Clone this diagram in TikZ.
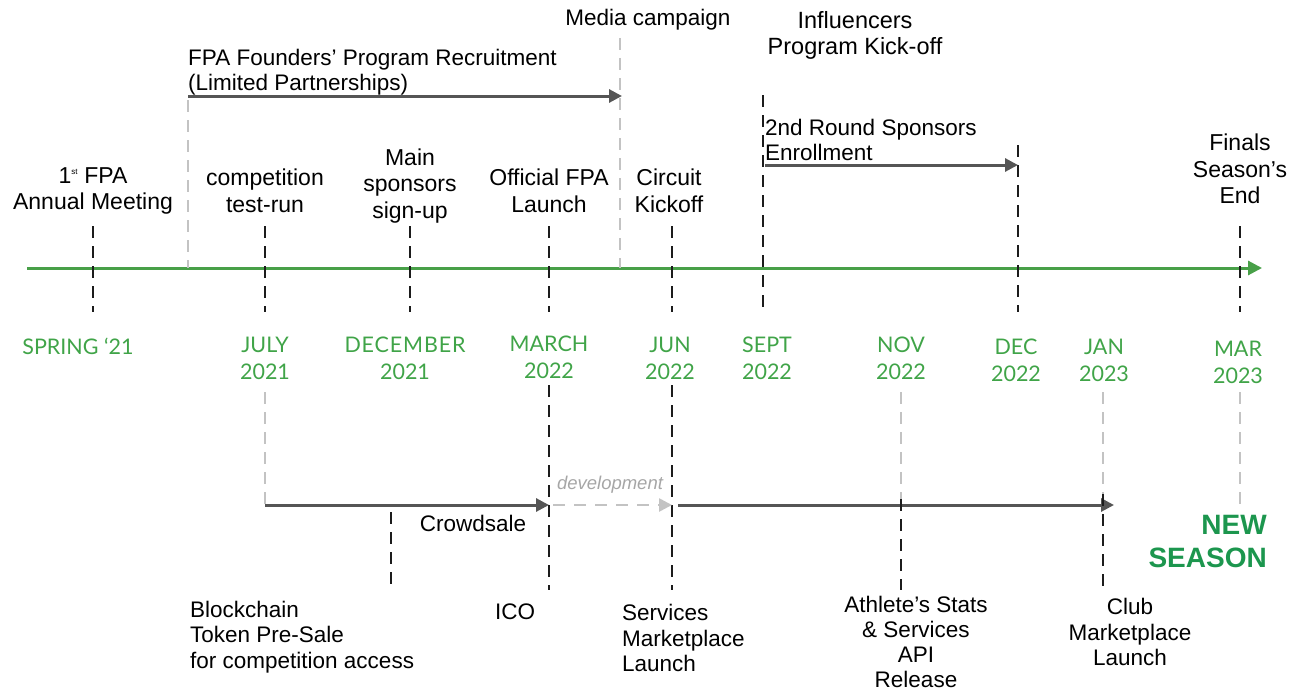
\documentclass[tikz,border=0pt]{standalone}
\usepackage{fontspec}
\setmainfont{Liberation Sans}
\newfontfamily\monthfont{Lato}
\usetikzlibrary{arrows.meta}
\definecolor{axisgreen}{RGB}{72,160,72}
\definecolor{monthgreen}{RGB}{64,164,72}
\definecolor{seasongreen}{RGB}{28,150,78}
\definecolor{darkdash}{RGB}{28,28,28}
\definecolor{spanarrow}{RGB}{85,85,85}
\definecolor{lightdash}{RGB}{195,195,195}
\tikzset{
  ev/.style={font=\fontsize{23}{26.5}\selectfont, align=center, inner sep=0pt},
  note/.style={font=\fontsize{22.5}{25.5}\selectfont, inner sep=0pt},
  month/.style={font=\monthfont\fontsize{21.5}{27}\selectfont, text=monthgreen, align=center, inner sep=0pt},
  axisline/.style={draw=axisgreen, line width=3pt, -{Triangle[length=14pt,width=14pt]}},
  tick/.style={draw=darkdash, line width=2.7pt, dash pattern=on 12pt off 8pt},
  faint/.style={draw=lightdash, line width=2.4pt, dash pattern=on 12pt off 8pt},
  span/.style={draw=spanarrow, line width=3pt, -{Triangle[length=13pt,width=13pt]}},
  faintspan/.style={draw=lightdash, line width=2.6pt, dash pattern=on 12pt off 9pt, -{Triangle[length=13pt,width=13pt]}}
}
\begin{document}
\begin{tikzpicture}[x=1pt,y=-1pt]
\useasboundingbox (0,0) rectangle (1298,693);

% main time axis
\coordinate (axL) at (27,268);
\coordinate (axR) at (1262,268);
\draw[axisline] (axL) -- (axR);

% milestone ticks crossing the axis
\foreach \n/\x in {meet/93, test/265, spons/410, offl/549, circ/672, fin/1240}{
  \coordinate (\n T) at (\x,226);
  \coordinate (\n B) at (\x,312);
  \draw[tick] (\n T) -- (\n B);
}
\coordinate (inflT) at (763,95);   \coordinate (inflB) at (763,312);
\draw[tick] (inflT) -- (inflB);
\coordinate (decT) at (1018,145);  \coordinate (decB) at (1018,312);
\draw[tick] (decT) -- (decB);

% founders' programme span
\coordinate (fpaT) at (188,100);   \coordinate (fpaB) at (188,268);
\coordinate (medT) at (620,38);    \coordinate (medB) at (620,268);
\draw[faint] (fpaT) -- (fpaB);
\draw[faint] (medT) -- (medB);
\coordinate (fpaS) at (188,96);    \coordinate (fpaE) at (622,96);
\draw[span] (fpaS) -- (fpaE);

% second sponsors round span
\coordinate (rndS) at (765,165);   \coordinate (rndE) at (1018,165);
\draw[span] (rndS) -- (rndE);

% upper labels
\node[note, anchor=center] (media) at (648,20) {Media campaign};
\node[ev, font=\fontsize{23.5}{26}\selectfont] (infl) at (855,35) {Influencers\\Program Kick-off};
\node[note, align=left, anchor=west] (fpa) at (188,72) {FPA Founders’ Program Recruitment\\(Limited Partnerships)};
\node[note, align=left, anchor=west] (rnd) at (765,140) {2nd Round Sponsors\\Enrollment};

\node[ev] (meet) at (93,191) {1\textsuperscript{\fontsize{8}{8}\selectfont st} FPA\\Annual Meeting};
\node[ev] (test) at (265,191) {competition\\test-run};
\node[ev] (spons) at (410,186) {Main\\sponsors\\sign-up};
\node[ev] (offl) at (549,191) {Official FPA\\Launch};
\node[ev] (circ) at (669,191) {Circuit\\Kickoff};
\node[ev] (fin) at (1240,169) {Finals\\Season’s\\End};

% month labels
\node[month] (m1) at (78,346) {SPRING ‘21};
\node[month] (m2) at (265,358) {JULY\\2021};
\node[month] (m3) at (405,358) {\addfontfeatures{LetterSpace=4}DECEMBER\\2021};
\node[month] (m4) at (549,357) {MARCH\\2022};
\node[month] (m5) at (670,358) {JUN\\2022};
\node[month] (m6) at (767,358) {SEPT\\2022};
\node[month] (m7) at (901,358) {NOV\\2022};
\node[month] (m8) at (1016,360) {DEC\\2022};
\node[month] (m9) at (1104,360) {JAN\\2023};
\node[month] (m10) at (1238,362) {MAR\\2023};

% lower track
\coordinate (jT) at (265,392);  \coordinate (jB) at (265,505);
\draw[faint] (jT) -- (jB);
\coordinate (crE) at (549,505);
\draw[span] (jB) -- (crE);

\coordinate (icoT) at (549,385); \coordinate (icoB) at (549,590);
\draw[tick] (icoT) -- (icoB);
\coordinate (svcT) at (672,385); \coordinate (svcB) at (672,590);
\draw[tick] (svcT) -- (svcB);

\coordinate (devS) at (553,505); \coordinate (devE) at (672,505);
\draw[faintspan] (devS) -- (devE);
\coordinate (mkS) at (678,505);  \coordinate (mkE) at (1114,505);
\draw[span] (mkS) -- (mkE);

\coordinate (apiT) at (901,392); \coordinate (apiM) at (901,505); \coordinate (apiB) at (901,590);
\draw[faint] (apiT) -- (apiM);
\draw[tick] ([yshift=6pt]apiM) -- (apiB);
\coordinate (clubT) at (1103,392); \coordinate (clubM) at (1103,500); \coordinate (clubB) at (1103,590);
\draw[faint] (clubT) -- (clubM);
\draw[tick] ([yshift=6pt]clubM) -- (clubB);
\coordinate (nsT) at (1240,392); \coordinate (nsB) at (1240,505);
\draw[faint] (nsT) -- (nsB);
\coordinate (psT) at (391,512); \coordinate (psB) at (391,590);
\draw[tick] (psT) -- (psB);

\node[note] (crowd) at (473,523) {Crowdsale};
\node[font=\itshape\fontsize{18.5}{20}\selectfont, text=lightdash!85!black, inner sep=0pt] (dev) at (610,485) {development};
\node[font=\bfseries\fontsize{28}{33}\selectfont, text=seasongreen, align=right, anchor=east, inner sep=0pt] (ns) at (1267,541) {NEW\\SEASON};

% bottom labels
\node[note, align=left, anchor=west] (blk) at (190,637) {Blockchain\\Token Pre-Sale\\for competition access};
\node[note] (ico) at (515,612) {ICO};
\node[note, align=left, anchor=west] (svc) at (622,638) {Services\\Marketplace\\Launch};
\node[note, align=center, font=\fontsize{22.5}{25}\selectfont] (api) at (916,642) {Athlete’s Stats\\\& Services\\API\\Release};
\node[note, align=center] (club) at (1130,632) {Club\\Marketplace\\Launch};
\end{tikzpicture}
\end{document}
